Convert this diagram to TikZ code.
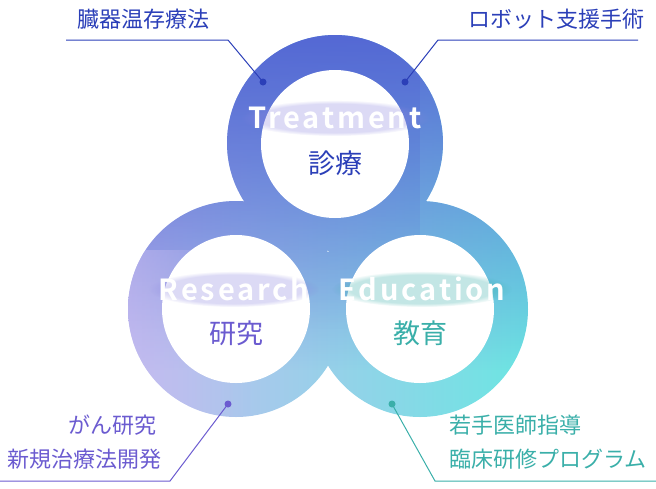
\documentclass[tikz,border=0pt]{standalone}
\usepackage{fontspec}
\setmainfont{Noto Sans CJK JP}
\newfontfamily\latb[LetterSpace=10]{Noto Sans CJK JP Bold}
\usetikzlibrary{fadings}
\definecolor{cblue}{HTML}{2B3FB8}
\definecolor{cpurp}{HTML}{6B5BD0}
\definecolor{cteal}{HTML}{3AAFA9}
\definecolor{rblue}{HTML}{5468D4}
\definecolor{rlav}{HTML}{C4BBF0}
\definecolor{rcyan}{HTML}{6AE6E2}
\definecolor{glow}{HTML}{8C86E0}
\tikzset{
  lbl/.style={font=\fontsize{22}{22}\selectfont, inner sep=0pt},
  ttl/.style={font=\latb\fontsize{29}{29}\selectfont, text=white, inner sep=0pt},
  sub/.style={font=\fontsize{27}{27}\selectfont, inner sep=0pt},
  dotc/.style={circle, fill, inner sep=0pt, minimum size=7pt},
  lead/.style={line width=1pt},
  halo/.style={opacity=0.3, path fading=circle with fuzzy edge 20 percent}
}
\begin{document}
\begin{tikzpicture}[x=1pt,y=-1pt]
\useasboundingbox (0,0) rectangle (656,488);
\begin{scope}
  \clip (335,143) circle (108) (236,309) circle (108) (420,309) circle (108);
  \shade[left color=rlav, right color=rcyan] (120,30) rectangle (535,420);
  \fill[rblue, path fading=south] (120,30) rectangle (535,370);
  \fill[rblue, opacity=0.4, path fading=south] (120,30) rectangle (420,330);
  \fill[rlav, opacity=0.6, path fading=east] (120,250) rectangle (250,420);
\end{scope}
\fill[white] (335,144) circle (74) (236,309) circle (74) (420,309) circle (74);
% titles with halo
\fill[glow, halo] (335,118) ellipse (95 and 18);
\fill[glow, halo] (234,289) ellipse (85 and 18);
\fill[cteal, halo] (422,289) ellipse (90 and 18);
\node[ttl] (tt) at (335,118) {Treatment};
\node[ttl] (rt) at (234,289) {Research};
\node[ttl] (et) at (422,289) {Education};
\node[sub, text=cblue] (s1) at (335,163) {診療};
\node[sub, text=cpurp] (s2) at (236,333) {研究};
\node[sub, text=cteal] (s3) at (420,333) {教育};
% leaders
\node[dotc, cblue] (d1) at (263,82) {};
\node[dotc, cblue] (d2) at (405,82) {};
\node[dotc, cpurp] (d3) at (228,404) {};
\node[dotc, cteal] (d4) at (392,404) {};
\coordinate (c1) at (228,40); \coordinate (e1) at (66,40);
\coordinate (c2) at (438,40); \coordinate (e2) at (638,40);
\coordinate (c3) at (170,481); \coordinate (e3) at (0,481);
\coordinate (c4) at (435,481); \coordinate (e4) at (656,481);
\draw[lead, cblue] (d1.center) -- (c1) -- (e1);
\draw[lead, cblue] (d2.center) -- (c2) -- (e2);
\draw[lead, cpurp] (d3.center) -- (c3) -- (e3);
\draw[lead, cteal] (d4.center) -- (c4) -- (e4);
\node[lbl, text=cblue, anchor=west] (l1) at (77,19) {臓器温存療法};
\node[lbl, text=cblue, anchor=east] (l2) at (645,19) {ロボット支援手術};
\node[lbl, text=cpurp, anchor=east] (l3) at (157,425) {がん研究};
\node[lbl, text=cpurp, anchor=east] (l4) at (162,459) {新規治療法開発};
\node[lbl, text=cteal, anchor=west] (l5) at (449,425) {若手医師指導};
\node[lbl, text=cteal, anchor=west] (l6) at (449,459) {臨床研修プログラム};
\end{tikzpicture}
\end{document}
